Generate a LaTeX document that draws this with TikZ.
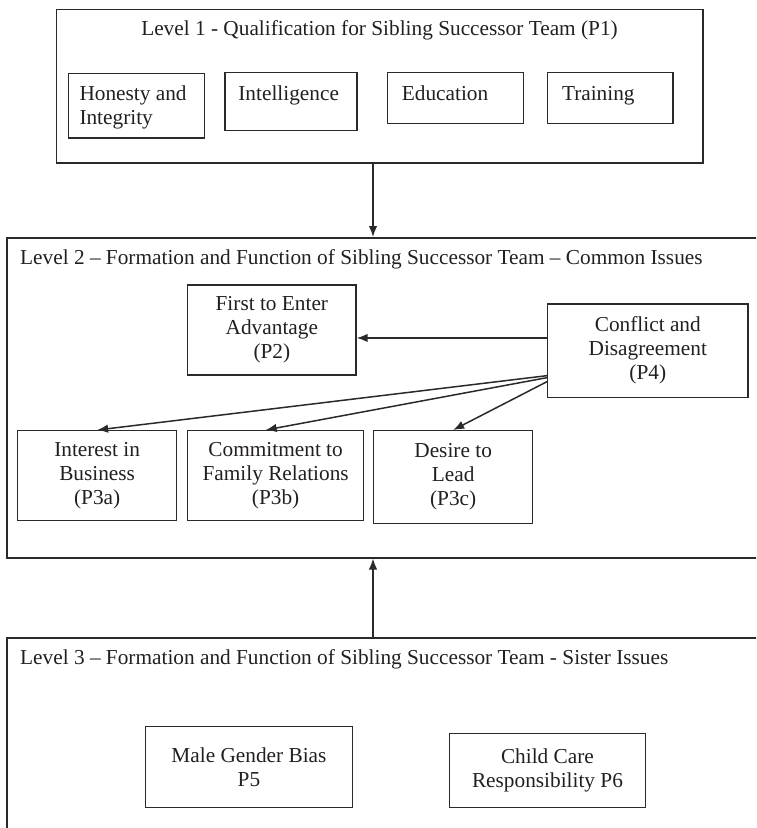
\documentclass[tikz,border=0pt]{standalone}
\usepackage{fontspec}
\setmainfont{Liberation Serif}
\usetikzlibrary{arrows.meta,calc}
\definecolor{ink}{HTML}{231F20}
\definecolor{rule}{HTML}{2A2A2A}
\begin{document}
\begin{tikzpicture}[x=1pt, y=-1pt,
  font=\fontsize{21.3}{24}\selectfont, text=ink,
  frame/.style={draw=rule, line width=1.5pt, rectangle, inner sep=0pt, anchor=north west},
  pbox/.style={draw=rule, line width=1.3pt, rectangle, inner sep=0pt, anchor=north west, align=center},
  ptext/.style={inner sep=0pt, anchor=north west, align=left},
  title/.style={inner sep=0pt, anchor=base west},
  arr/.style={draw=rule, line width=1.5pt, -{Latex[length=11pt,width=8.5pt]}}
]
\useasboundingbox (0,0) rectangle (756,828);
\clip (0,0) rectangle (756,828);

% ---------- Level 1 ----------
\node[frame, minimum width=646.3pt, minimum height=153.3pt] (l1) at (55.7,8.7) {};
\node[inner sep=0pt, anchor=base] (l1t) at (379.5,35.5)
  {Level 1 - Qualification for Sibling Successor Team (P1)};

\node[pbox, minimum width=136.1pt, minimum height=64.6pt] (hon) at (67.5,72.7) {};
\node[ptext] (hont) at ($(hon.north west)+(11.8,13.3)$) {Honesty and\\Integrity};

\node[pbox, minimum width=131.9pt, minimum height=58pt] (int) at (224.3,72) {};
\node[ptext] (intt) at ($(int.north west)+(13.9,14)$) {Intelligence};

\node[pbox, minimum width=136pt, minimum height=51pt] (edu) at (387,72) {};
\node[ptext] (edut) at ($(edu.north west)+(14.7,14)$) {Education};

\node[pbox, minimum width=125.2pt, minimum height=51pt] (trn) at (547,72) {};
\node[ptext] (trnt) at ($(trn.north west)+(14.8,14)$) {Training};

% ---------- Level 2 ----------
\node[frame, minimum width=780pt, minimum height=320pt] (l2) at (6,237) {};
\node[title] (l2t) at (20,264)
  {Level 2 -- Formation and Function of Sibling Successor Team -- Common Issues};

\node[pbox, minimum width=168.4pt, minimum height=90pt] (fe) at (187,284.3)
  {First to Enter\\Advantage\\(P2)};
\node[pbox, minimum width=200.3pt, minimum height=93.4pt] (cf) at (547,303.3)
  {Conflict and\\Disagreement\\(P4)};
\node[pbox, minimum width=159pt, minimum height=90pt] (ib) at (17,430)
  {Interest in\\Business\\(P3a)};
\node[pbox, minimum width=176pt, minimum height=90pt] (cm) at (187,430)
  {Commitment to\\Family Relations\\(P3b)};
\node[pbox, minimum width=159pt, minimum height=92.7pt] (dl) at (373,430)
  {Desire to\\Lead\\(P3c)};

\draw[arr] ([yshift=12.7pt]cf.west) -- ([yshift=12.7pt]cf.west -| fe.east);
\draw[arr] ([yshift=-25pt]cf.west) -- (ib.north);
\draw[arr] ([yshift=-27pt]cf.west) -- ([xshift=-10pt]cm.north);
\draw[arr] ([yshift=-31pt]cf.west) -- (dl.north);

% ---------- Level 3 ----------
\node[frame, minimum width=780pt, minimum height=260pt] (l3) at (6,637) {};
\node[title] (l3t) at (20,664.5)
  {Level 3 -- Formation and Function of Sibling Successor Team - Sister Issues};

\node[pbox, minimum width=207.4pt, minimum height=81pt] (mg) at (144.6,726)
  {Male Gender Bias\\P5};
\node[pbox, minimum width=195.6pt, minimum height=74pt] (cc) at (449,733)
  {Child Care\\Responsibility P6};

% ---------- links between levels ----------
\coordinate (ax) at (373,0);
\draw[arr] (l1.south -| ax) -- (l2.north -| ax);
\draw[arr] (l3.north -| ax) -- (l2.south -| ax);
\end{tikzpicture}
\end{document}
